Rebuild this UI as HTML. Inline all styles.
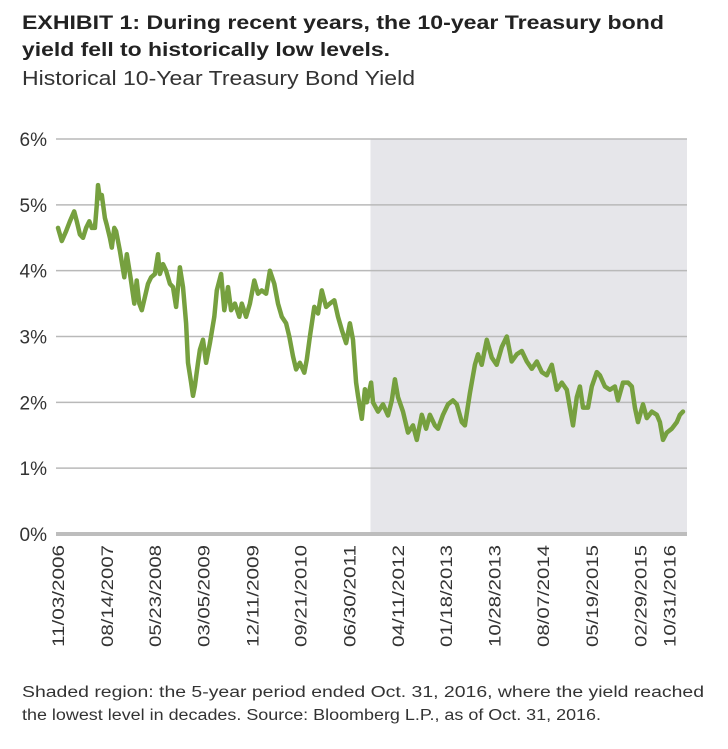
<!DOCTYPE html>
<html><head><meta charset="utf-8"><style>
html,body{margin:0;padding:0;background:#fff;}
svg{display:block;font-family:"Liberation Sans",sans-serif;}
</style></head><body>
<svg id="chart" width="728" height="749" viewBox="0 0 728 749">
<text x="22" y="29" font-size="19" font-weight="bold" fill="#222" textLength="642" lengthAdjust="spacingAndGlyphs">EXHIBIT 1: During recent years, the 10-year Treasury bond</text>
<text x="22" y="56" font-size="19" font-weight="bold" fill="#222" textLength="368" lengthAdjust="spacingAndGlyphs">yield fell to historically low levels.</text>
<text x="22" y="85" font-size="20" fill="#333" textLength="393" lengthAdjust="spacingAndGlyphs">Historical 10-Year Treasury Bond Yield</text>
<g id="plot"></g>
<text x="22" y="697" font-size="15.5" fill="#333" textLength="682" lengthAdjust="spacingAndGlyphs">Shaded region: the 5-year period ended Oct. 31, 2016, where the yield reached</text>
<text x="22" y="720" font-size="15.5" fill="#333" textLength="579" lengthAdjust="spacingAndGlyphs">the lowest level in decades. Source: Bloomberg L.P., as of Oct. 31, 2016.</text>
</svg>
<script>
const years = [2006.84,2006.90,2006.97,2007.03,2007.10,2007.14,2007.19,2007.24,2007.29,2007.34,2007.38,2007.43,2007.46,2007.48,2007.51,2007.54,2007.59,2007.62,2007.67,2007.70,2007.74,2007.77,2007.80,2007.83,2007.90,2007.94,2008.00,2008.06,2008.10,2008.14,2008.18,2008.23,2008.28,2008.33,2008.39,2008.44,2008.47,2008.52,2008.57,2008.63,2008.68,2008.73,2008.79,2008.84,2008.89,2008.92,2008.97,2009.00,2009.03,2009.08,2009.11,2009.16,2009.21,2009.27,2009.34,2009.38,2009.45,2009.50,2009.56,2009.61,2009.67,2009.74,2009.78,2009.85,2009.91,2009.98,2010.04,2010.10,2010.17,2010.23,2010.30,2010.36,2010.42,2010.49,2010.54,2010.60,2010.65,2010.71,2010.78,2010.82,2010.87,2010.94,2011.00,2011.06,2011.13,2011.19,2011.26,2011.32,2011.38,2011.45,2011.51,2011.56,2011.61,2011.64,2011.70,2011.75,2011.78,2011.85,2011.88,2011.96,2012.04,2012.12,2012.18,2012.23,2012.28,2012.36,2012.44,2012.52,2012.58,2012.66,2012.73,2012.79,2012.87,2012.92,2013.00,2013.08,2013.16,2013.22,2013.30,2013.35,2013.43,2013.51,2013.56,2013.62,2013.70,2013.78,2013.86,2013.94,2014.02,2014.10,2014.18,2014.26,2014.34,2014.42,2014.50,2014.58,2014.66,2014.74,2014.82,2014.90,2014.98,2015.03,2015.08,2015.14,2015.19,2015.24,2015.32,2015.38,2015.46,2015.51,2015.59,2015.67,2015.75,2015.80,2015.88,2015.96,2016.02,2016.07,2016.12,2016.20,2016.26,2016.34,2016.42,2016.47,2016.52,2016.58,2016.66,2016.74,2016.79,2016.84];
const yields = [4.65,4.45,4.6,4.75,4.9,4.75,4.55,4.5,4.65,4.75,4.65,4.65,5.0,5.3,5.1,5.15,4.8,4.7,4.5,4.35,4.65,4.6,4.45,4.3,3.9,4.25,3.9,3.5,3.85,3.5,3.4,3.6,3.8,3.9,3.95,4.25,3.95,4.1,4.0,3.8,3.75,3.45,4.05,3.75,3.2,2.6,2.3,2.1,2.25,2.6,2.8,2.95,2.6,2.9,3.3,3.7,3.95,3.4,3.75,3.4,3.5,3.3,3.5,3.3,3.5,3.85,3.65,3.7,3.65,4.0,3.8,3.5,3.3,3.2,3.0,2.7,2.5,2.6,2.45,2.65,3.0,3.45,3.35,3.7,3.45,3.5,3.55,3.3,3.1,2.9,3.2,2.95,2.3,2.1,1.75,2.2,2.0,2.3,2.0,1.86,1.97,1.8,2.03,2.35,2.08,1.86,1.54,1.65,1.43,1.81,1.6,1.81,1.65,1.6,1.81,1.97,2.03,1.97,1.7,1.65,2.14,2.57,2.73,2.57,2.95,2.68,2.57,2.84,3.0,2.62,2.73,2.78,2.62,2.51,2.62,2.46,2.41,2.57,2.19,2.3,2.19,1.92,1.65,2.08,2.24,1.92,1.92,2.24,2.46,2.41,2.24,2.19,2.24,2.03,2.3,2.3,2.24,1.92,1.7,1.97,1.76,1.86,1.81,1.7,1.43,1.54,1.6,1.7,1.81,1.86];
const yTicks = [0,1,2,3,4,5,6];
const yTickLabels = ["0%","1%","2%","3%","4%","5%","6%"];
const tickYears = [2006.84,2007.62,2008.39,2009.17,2009.95,2010.72,2011.50,2012.28,2013.05,2013.82,2014.60,2015.38,2016.16,2016.62];
const tickLabels = ["11/03/2006","08/14/2007","05/23/2008","03/05/2009","12/11/2009","09/21/2010","06/30/2011","04/11/2012","01/18/2013","10/28/2013","08/07/2014","05/19/2015","02/29/2015","10/31/2016"];
const shadeStartYear = 2011.84;

const NS="http://www.w3.org/2000/svg";
const L=56,R=687,T=139,B=534;
const x0=2006.84,x1=2016.84;
const xs=v=>58+(v-x0)/(x1-x0)*(683-58);
const ys=v=>B-(v/6)*(B-T);
const g=document.getElementById('plot');
function mk(t,a){const e=document.createElementNS(NS,t);for(const k in a)e.setAttribute(k,a[k]);g.appendChild(e);return e;}

const sh=mk('rect',{x:xs(shadeStartYear),y:ys(6),width:R-xs(shadeStartYear),height:B-ys(6),fill:'#e6e6ea'});



yTicks.forEach((t,i)=>{
  if(t>0){
    const ln=mk('line',{x1:L,x2:R,y1:ys(t),y2:ys(t),stroke:'#b9b9b9','stroke-width':1.5});
    
    
  }
  const tx=mk('text',{x:47,y:ys(t)+7,'font-size':19,'text-anchor':'end',fill:'#333'});
  tx.textContent=yTickLabels[i];
  
  
});

const ax=mk('line',{x1:L,x2:R,y1:B,y2:B,stroke:'#bdbdbd','stroke-width':4});



let d='';
years.forEach((yr,i)=>{d+=(i?'L':'M')+xs(yr).toFixed(1)+','+ys(yields[i]).toFixed(1);});
const p=mk('path',{d:d,fill:'none',stroke:'#76a03f','stroke-width':4.5,'stroke-linejoin':'round','stroke-linecap':'round'});



tickYears.forEach((yr,i)=>{
  const cx=xs(yr)+6;
  const tx=mk('text',{x:cx,y:545,'font-size':17,'text-anchor':'end',fill:'#333',transform:'rotate(-90 '+cx+' 545)',textLength:102,lengthAdjust:'spacingAndGlyphs'});
  tx.textContent=tickLabels[i];
  
  
});
</script>
</body></html>
